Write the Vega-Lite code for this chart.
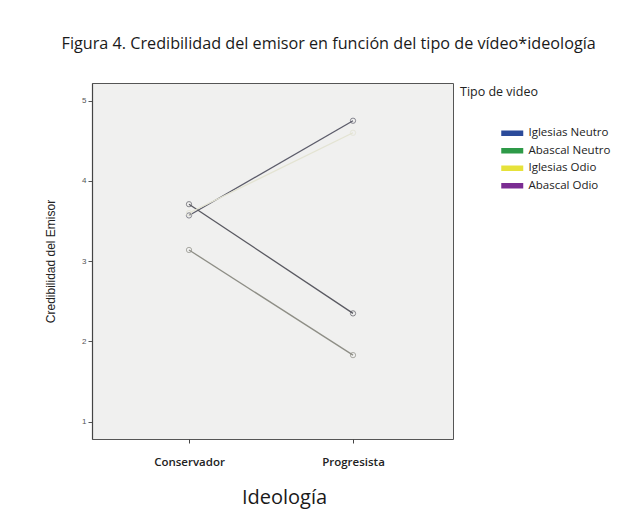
{
  "$schema": "https://vega.github.io/schema/vega-lite/v6.json",
  "width": 361,
  "height": 356,
  "autosize": {"type": "none"},
  "padding": {"left": 92, "top": 83, "right": 182, "bottom": 89},
  "background": "white",
  "title": {
    "text": "Figura 4. Credibilidad del emisor en función del tipo de vídeo*ideología",
    "font": "Open Sans",
    "fontSize": 16.2,
    "fontWeight": "normal",
    "color": "#1a1a1a",
    "anchor": "start",
    "dx": 17,
    "offset": 31
  },
  "data": {
    "values": [
      {"ideologia": "Conservador", "tipo": "Iglesias Neutro", "credibilidad": 3.57},
      {"ideologia": "Progresista", "tipo": "Iglesias Neutro", "credibilidad": 4.75},
      {"ideologia": "Conservador", "tipo": "Abascal Neutro", "credibilidad": 3.71},
      {"ideologia": "Progresista", "tipo": "Abascal Neutro", "credibilidad": 2.35},
      {"ideologia": "Conservador", "tipo": "Iglesias Odio", "credibilidad": 3.6},
      {"ideologia": "Progresista", "tipo": "Iglesias Odio", "credibilidad": 4.6},
      {"ideologia": "Conservador", "tipo": "Abascal Odio", "credibilidad": 3.14},
      {"ideologia": "Progresista", "tipo": "Abascal Odio", "credibilidad": 1.83}
    ]
  },
  "encoding": {
    "x": {
      "field": "ideologia",
      "type": "nominal",
      "sort": ["Conservador", "Progresista"],
      "scale": {"type": "point", "range": [97, 261], "padding": 0},
      "axis": {
        "title": "Ideología",
        "titleFont": "Open Sans",
        "titleFontSize": 20,
        "titleFontWeight": "normal",
        "titleColor": "#1a1a1a",
        "titlePadding": 20,
        "titleX": 192,
        "labelFont": "Open Sans",
        "labelFontSize": 11.5,
        "labelFontWeight": 600,
        "labelColor": "#222",
        "labelPadding": 13,
        "labelAngle": 0,
        "tickSize": 4,
        "tickColor": "#444",
        "domain": false,
        "grid": false
      }
    },
    "y": {
      "field": "credibilidad",
      "type": "quantitative",
      "scale": {"domain": [0.785, 5.22], "nice": false, "zero": false},
      "axis": {
        "title": "Credibilidad del Emisor",
        "titleFont": "Liberation Sans",
        "titleFontSize": 12,
        "titleFontWeight": "normal",
        "titleColor": "#222",
        "titlePadding": 24,
        "values": [1, 2, 3, 4, 5],
        "labelFont": "Liberation Sans",
        "labelFontSize": 8,
        "labelColor": "#555",
        "labelPadding": 2,
        "tickSize": 4,
        "tickColor": "#555",
        "domainColor": "#444",
        "domainWidth": 1.2,
        "grid": false
      }
    }
  },
  "layer": [
    {
      "mark": {"type": "line", "strokeWidth": 1.3},
      "encoding": {
        "stroke": {
          "field": "tipo",
          "type": "nominal",
          "scale": {
            "domain": ["Abascal Odio", "Iglesias Odio", "Abascal Neutro", "Iglesias Neutro"],
            "range": ["#8e8e86", "#e3e3d2", "#5a5a62", "#5c5c6a"]
          },
          "legend": null
        }
      }
    },
    {
      "mark": {"type": "point", "shape": "circle", "size": 28, "filled": false, "strokeWidth": 1},
      "encoding": {
        "stroke": {"field": "tipo", "type": "nominal", "legend": null}
      }
    },
    {
      "mark": {"type": "point", "shape": "square", "filled": true, "opacity": 0},
      "encoding": {
        "color": {
          "field": "tipo",
          "type": "nominal",
          "scale": {
            "domain": ["Iglesias Neutro", "Abascal Neutro", "Iglesias Odio", "Abascal Odio"],
            "range": ["#2b4b9a", "#2e9a48", "#e6e23a", "#7a2c92"]
          },
          "legend": {
            "title": "Tipo de video",
            "orient": "none",
            "legendX": 368,
            "legendY": 3,
            "titleFont": "Open Sans",
            "titleFontSize": 12.5,
            "titleFontWeight": "normal",
            "titleColor": "#222",
            "titlePadding": 29,
            "labelFont": "Open Sans",
            "labelFontSize": 11.5,
            "labelColor": "#222",
            "labelOffset": 10.5,
            "symbolType": "M-2,-0.5H2V0.5H-2Z",
            "symbolSize": 121,
            "symbolOpacity": 1,
            "symbolStrokeWidth": 0,
            "symbolOffset": 46.5,
            "rowPadding": 4.5
          }
        }
      }
    }
  ],
  "config": {
    "view": {"fill": "#f0f0ef", "stroke": "#555", "strokeWidth": 1}
  }
}
